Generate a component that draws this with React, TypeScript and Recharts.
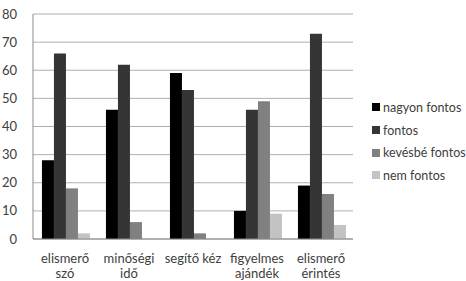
import React from 'react'
import { BarChart, Bar, XAxis, YAxis, CartesianGrid } from 'recharts'

// kategóriák és értékek (leolvasva)
const categories = ['elismerő\nszó', 'minőségi\nidő', 'segítő kéz', 'figyelmes\najándék', 'elismerő\nérintés']
const nagyonFontos = [28, 46, 59, 10, 19]
const fontos = [66, 62, 53, 46, 73]
const kevesbeFontos = [18, 6, 2, 49, 16]
const nemFontos = [2, 0, 0, 9, 5]
const yTicks = [0, 10, 20, 30, 40, 50, 60, 70, 80]

const SERIES = [
  { key: 'nagyon fontos', color: '#000000', values: nagyonFontos },
  { key: 'fontos', color: '#353535', values: fontos },
  { key: 'kevésbé fontos', color: '#808080', values: kevesbeFontos },
  { key: 'nem fontos', color: '#c3c3c3', values: nemFontos },
]

const data = categories.map((name, i) => {
  const row: Record<string, string | number> = { name }
  SERIES.forEach(s => { row[s.key] = s.values[i] })
  return row
})

const FONT = 'Lato, "DejaVu Sans", sans-serif'
const TEXT = '#404040'

const CatTick = (props: any) => {
  const { x, y, payload } = props
  const lines = String(payload.value).split('\n')
  return (
    <text x={x} y={y} textAnchor="middle" fill={TEXT} fontSize={13} fontFamily={FONT}>
      {lines.map((l, i) => (
        <tspan key={i} x={x} dy={i === 0 ? 16 : 15}>{l}</tspan>
      ))}
    </text>
  )
}

const LegendBox = () => (
  <div style={{ position: 'absolute', left: 372, top: 96, fontFamily: FONT, fontSize: 12.5, color: TEXT }}>
    {SERIES.map(s => (
      <div key={s.key} style={{ display: 'flex', alignItems: 'center', height: 22.7, whiteSpace: 'nowrap' }}>
        <span style={{ width: 8, height: 8, background: s.color, marginRight: 3, display: 'inline-block' }} />
        {s.key}
      </div>
    ))}
  </div>
)

export default function App() {
  return (
    <div style={{ position: 'absolute', left: 0, top: 0, width: 466, height: 281, background: '#fff' }}>
      <BarChart
        width={466}
        height={281}
        data={data}
        margin={{ top: 14, right: 113, bottom: 0, left: 0 }}
        barCategoryGap="14%"
        barGap={0}
      >
        <CartesianGrid vertical={false} stroke="#b0b0b0" />
        <XAxis
          dataKey="name"
          height={42}
          interval={0}
          tick={<CatTick />}
          tickLine={false}
          axisLine={{ stroke: '#8a8a8a' }}
        />
        <XAxis
          xAxisId="b"
          type="number"
          domain={[0, 5]}
          ticks={[0, 1, 2, 3, 4, 5]}
          tick={false}
          tickSize={5}
          height={0}
          axisLine={false}
          tickLine={{ stroke: '#8a8a8a' }}
        />
        <YAxis
          width={33}
          domain={[0, 80]}
          ticks={yTicks}
          interval={0}
          tickLine={false}
          axisLine={{ stroke: '#8a8a8a' }}
          tick={{ fill: TEXT, fontSize: 13, fontFamily: FONT }}
          tickMargin={10}
        />
        {SERIES.map(s => (
          <Bar key={s.key} dataKey={s.key} fill={s.color} isAnimationActive={false} />
        ))}
      </BarChart>
      <LegendBox />
    </div>
  )
}
